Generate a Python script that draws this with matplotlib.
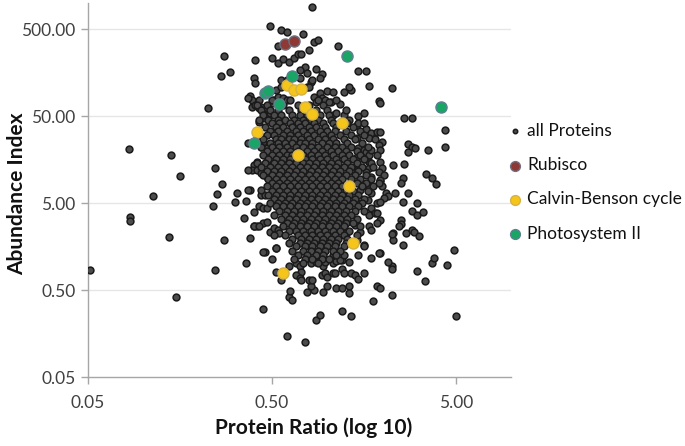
import numpy as np
import matplotlib
matplotlib.use("Agg")
import matplotlib.pyplot as plt
from matplotlib.ticker import FixedLocator, FixedFormatter, NullLocator

# ---------------- data (log10 of ratio, log10 of abundance index) ----------------
x_ticks = [0.05, 0.5, 5.0]
x_tick_labels = ["0.05", "0.50", "5.00"]
y_ticks = [0.05, 0.5, 5.0, 50.0, 500.0]
y_tick_labels = ["0.05", "0.50", "5.00", "50.00", "500.00"]

legend_labels = ["all Proteins", "Rubisco", "Calvin-Benson cycle", "Photosystem II"]

rubisco_pts = [(-0.23, 2.53), (-0.18, 2.56)]
calvin_pts = [(-0.22, 2.06), (-0.18, 2.00), (-0.14, 2.01), (-0.12, 1.80), (-0.08, 1.72),
              (0.08, 1.62), (-0.38, 1.52), (-0.16, 1.25), (0.12, 0.90), (0.14, 0.24),
              (-0.24, -0.11)]
psii_pts = [(0.11, 2.39), (-0.19, 2.16), (-0.34, 1.97), (-0.32, 1.99), (-0.26, 1.84),
            (-0.40, 1.39), (0.62, 1.80)]

upper_pts = [(-0.08, 2.95), (-0.31, 2.74), (-0.25, 2.69), (-0.22, 2.67), (-0.13, 2.64),
             (-0.27, 2.51), (-0.07, 2.55), (-0.05, 2.57), (0.06, 2.51), (-0.56, 2.39),
             (-0.39, 2.34), (-0.30, 2.37), (-0.27, 2.31), (-0.24, 2.36), (-0.21, 2.32),
             (-0.18, 2.37), (-0.16, 2.41), (-0.14, 2.41), (-0.10, 2.46), (-0.58, 2.16),
             (-0.53, 2.21), (-0.40, 2.14), (-0.39, 2.08), (-0.12, 2.26), (-0.11, 2.20),
             (-0.06, 2.24), (-0.03, 2.18), (-0.09, 2.09), (-0.08, 2.11), (-0.04, 2.14),
             (0.17, 2.22), (0.21, 2.22), (0.23, 2.05), (0.35, 2.02), (-0.42, 1.93),
             (-0.41, 1.89), (-0.43, 1.91), (0.00, 1.99), (0.03, 1.98), (0.09, 1.98),
             (0.13, 2.00), (0.12, 2.03), (-0.65, 1.79), (0.28, 1.87), (0.29, 1.85),
             (0.20, 1.74), (0.17, 1.70), (0.42, 1.68), (0.46, 1.68), (0.64, 1.54),
             (0.64, 1.34),
             (-0.36, 1.80), (-0.33, 1.79), (-0.30, 1.85), (-0.29, 1.89), (-0.27, 1.92),
             (-0.24, 1.91), (-0.22, 1.89), (-0.28, 2.00), (-0.25, 2.03), (-0.25, 2.11),
             (-0.22, 2.11), (-0.15, 2.14), (-0.15, 2.23), (-0.11, 2.03), (-0.10, 2.03),
             (-0.07, 1.92), (-0.04, 1.97), (-0.03, 1.91), (-0.01, 1.89), (-0.06, 1.86),
             (0.02, 1.86)]

left_pts = [(-1.08, 1.32), (-0.85, 1.25), (-0.80, 1.01), (-0.95, 0.78), (-1.07, 0.54),
            (-1.07, 0.49), (-0.61, 1.10), (-0.57, 0.92), (-0.60, 0.80), (-0.49, 0.82),
            (-0.50, 0.71), (-0.44, 0.72), (-0.62, 0.66), (-0.45, 0.53),
            (-0.42, 0.85), (-0.36, 0.79), (-0.34, 0.79), (-0.36, 0.85), (-0.40, 0.60),
            (-0.37, 0.66), (-0.35, 0.64), (-0.33, 0.64), (-0.40, 0.43), (-0.38, 0.43),
            (-0.35, 0.47), (-0.33, 0.48), (-0.31, 0.37), (-0.29, 0.41), (-0.27, 0.39),
            (-0.26, 0.36), (-0.29, 0.33), (-0.34, 0.14), (-0.28, 0.18), (-0.30, 0.94),
            (-0.28, 0.91), (-0.41, 1.80), (-0.39, 1.83), (-0.37, 1.79), (-0.33, 1.71),
            (-0.31, 1.74), (-0.34, 1.68), (-0.37, 1.63), (-0.38, 1.45), (-0.35, 1.46),
            (-0.35, 1.40), (-0.36, 1.34), (-0.33, 1.33), (-0.34, 1.25), (-0.33, 1.17),
            (-0.38, 1.17), (-0.40, 1.14), (-0.41, 1.08), (-0.38, 1.08), (-0.36, 1.05),
            (-0.33, 1.00), (-0.43, 1.39), (-0.43, 1.08), (-0.43, 0.85)]

lower_pts = [(-1.29, -0.07), (-0.86, 0.31), (-0.82, -0.38), (-0.61, -0.07), (-0.56, 0.28),
             (-0.44, 0.01), (-0.35, -0.52), (-0.35, 0.14), (-0.42, 0.30), (-0.40, 0.44),
             (-0.37, 0.43), (-0.28, -0.09), (-0.25, -0.18), (-0.22, -0.83), (-0.12, -0.90),
             (-0.21, -0.38), (-0.19, -0.41), (-0.20, -0.31), (-0.30, 0.06), (-0.28, 0.18),
             (-0.06, -0.64), (-0.04, -0.59), (-0.11, -0.32), (-0.07, -0.30), (-0.02, -0.32),
             (0.00, -0.26), (0.08, -0.54), (0.13, -0.60), (0.05, -0.28), (0.08, -0.28),
             (-0.09, -0.25), (-0.10, -0.18), (-0.08, -0.18), (-0.03, -0.13), (0.03, -0.10),
             (0.04, -0.10), (0.08, -0.06), (0.09, -0.11), (0.13, -0.10), (0.15, -0.13),
             (0.17, -0.17), (0.20, -0.10), (0.12, -0.25), (0.12, -0.33), (-0.02, -0.02),
             (-0.01, -0.11), (0.00, -0.15), (0.03, 0.01), (0.05, 0.03), (0.08, 0.05),
             (0.25, -0.43), (0.35, -0.36), (0.27, -0.25), (0.29, -0.28), (0.35, -0.02),
             (0.35, -0.06), (0.49, -0.08), (0.53, -0.20), (0.57, 0.01), (0.58, 0.07),
             (0.65, -0.01), (0.69, 0.16), (0.70, -0.60), (0.41, 0.22), (0.36, 0.36),
             (0.36, 0.28), (0.43, 0.36), (0.46, 0.39), (0.47, 0.37), (0.50, 0.32),
             (0.29, 0.13), (-0.17, 0.01), (-0.21, -0.02), (-0.15, -0.03), (-0.14, -0.09),
             (-0.17, -0.13), (-0.15, -0.16), (-0.14, -0.18), (-0.09, 0.01), (-0.06, 0.02)]

right_pts = [(0.44, 1.38), (0.46, 1.34), (0.48, 1.33), (0.44, 1.29), (0.55, 1.31),
             (0.42, 1.15), (0.36, 1.14), (0.54, 1.03), (0.57, 0.99), (0.59, 0.92),
             (0.41, 0.99), (0.40, 0.93), (0.44, 0.82), (0.37, 0.82), (0.41, 0.71),
             (0.49, 0.70), (0.46, 0.61), (0.49, 0.56), (0.52, 0.60), (0.40, 0.51),
             (0.40, 0.46), (0.39, 0.43), (0.35, 0.34), (0.29, 0.95), (0.30, 0.90),
             (0.32, 0.82), (0.33, 0.78), (0.31, 0.76), (0.27, 0.70), (0.29, 0.71),
             (0.24, 0.64), (0.23, 0.56), (0.26, 0.59), (0.27, 0.59), (0.29, 0.51),
             (0.27, 0.47), (0.23, 0.44), (0.24, 0.39), (0.28, 0.13), (0.11, 0.37),
             (0.03, 0.10), (0.07, 0.05), (0.09, 0.10), (-0.01, 0.02),
             (0.01, 1.86), (0.07, 1.84), (0.03, 1.71), (0.05, 1.74), (0.09, 1.71),
             (0.16, 1.60), (0.17, 1.62), (0.21, 1.55), (0.24, 1.51), (0.27, 1.52),
             (0.29, 1.52), (0.16, 1.45), (0.23, 1.45), (0.30, 1.40), (0.28, 1.37),
             (0.29, 1.31), (0.17, 1.33), (0.20, 1.31), (0.21, 1.29), (0.23, 1.25),
             (0.24, 1.31), (0.29, 1.17), (0.30, 1.10), (0.28, 1.06), (0.31, 1.02),
             (0.29, 0.97), (0.23, 1.17), (0.24, 1.14), (0.23, 1.10),
             (0.16, 1.23), (0.20, 1.21), (0.24, 1.16), (0.16, 1.08), (0.21, 1.06),
             (0.24, 1.00), (0.28, 0.93), (0.23, 0.89), (0.18, 0.85), (0.24, 0.82),
             (0.22, 0.74), (0.17, 0.70),
             (0.16, 0.28), (0.20, 0.22), (0.17, 0.10), (0.12, 0.02), (0.24, 0.07),
             (0.33, 0.02), (0.18, 0.37), (0.15, 0.45)]

# dense core, read row by row: abundance level (log10) and the ratios (log10) in that row
core_levels = [1.89, 1.83, 1.77, 1.71, 1.66, 1.62, 1.57, 1.53, 1.48, 1.44, 1.39, 1.34,
               1.30, 1.25, 1.21, 1.16, 1.11, 1.07, 1.02, 0.98, 0.93, 0.89, 0.84, 0.79,
               0.75, 0.70, 0.66, 0.61, 0.56, 0.52, 0.47, 0.43, 0.38, 0.33, 0.29, 0.24,
               0.20, 0.15, 0.10, 0.06, 0.01]
core_rows = [
    [-0.37, -0.30, -0.20, -0.05, 0.05],
    [-0.38, -0.33, -0.24, -0.16, -0.10, -0.02],
    [-0.36, -0.31, -0.27, -0.21, -0.14, -0.06, 0.00, 0.10],
    [-0.35, -0.29, -0.25, -0.19, -0.15, -0.11, -0.04, 0.01],
    [-0.37, -0.32, -0.27, -0.23, -0.18, -0.13, -0.09, -0.05, 0.02, 0.12],
    [-0.30, -0.26, -0.20, -0.16, -0.12, -0.07, -0.02, 0.03, 0.11, 0.20],
    [-0.34, -0.28, -0.24, -0.19, -0.15, -0.10, -0.06, -0.01, 0.05, 0.14],
    [-0.31, -0.27, -0.22, -0.17, -0.13, -0.09, -0.04, 0.00, 0.04, 0.10, 0.18],
    [-0.33, -0.29, -0.24, -0.20, -0.16, -0.11, -0.07, -0.02, 0.02, 0.07, 0.13, 0.20],
    [-0.35, -0.28, -0.25, -0.21, -0.18, -0.14, -0.10, -0.05, -0.01, 0.03, 0.09, 0.15, 0.26],
    [-0.31, -0.27, -0.23, -0.19, -0.15, -0.12, -0.08, -0.03, 0.01, 0.05, 0.11, 0.19],
    [-0.36, -0.30, -0.26, -0.22, -0.17, -0.13, -0.09, -0.05, 0.00, 0.04, 0.08, 0.13, 0.22],
    [-0.33, -0.28, -0.24, -0.20, -0.16, -0.11, -0.07, -0.03, 0.02, 0.06, 0.10, 0.16],
    [-0.35, -0.30, -0.26, -0.22, -0.19, -0.13, -0.09, -0.05, -0.01, 0.03, 0.08, 0.12, 0.18, 0.27],
    [-0.32, -0.28, -0.24, -0.20, -0.16, -0.12, -0.08, -0.04, 0.00, 0.05, 0.09, 0.14, 0.20],
    [-0.38, -0.34, -0.29, -0.25, -0.21, -0.17, -0.13, -0.10, -0.06, -0.02, 0.02, 0.06, 0.11, 0.16],
    [-0.36, -0.31, -0.27, -0.23, -0.19, -0.15, -0.11, -0.07, -0.03, 0.01, 0.05, 0.09, 0.13, 0.19, 0.25],
    [-0.33, -0.29, -0.25, -0.21, -0.17, -0.13, -0.09, -0.05, -0.01, 0.03, 0.07, 0.12, 0.17],
    [-0.35, -0.30, -0.26, -0.22, -0.18, -0.14, -0.10, -0.06, -0.02, 0.02, 0.06, 0.10, 0.15, 0.21],
    [-0.32, -0.28, -0.24, -0.20, -0.16, -0.12, -0.08, -0.04, 0.00, 0.04, 0.08, 0.13, 0.18, 0.24],
    [-0.30, -0.26, -0.22, -0.18, -0.14, -0.10, -0.06, -0.02, 0.02, 0.06, 0.16, 0.21],
    [-0.33, -0.28, -0.24, -0.20, -0.16, -0.12, -0.08, -0.04, 0.00, 0.04, 0.08, 0.19, 0.25],
    [-0.30, -0.26, -0.22, -0.18, -0.14, -0.10, -0.06, -0.02, 0.02, 0.06, 0.10, 0.14, 0.22],
    [-0.32, -0.28, -0.24, -0.20, -0.16, -0.12, -0.08, -0.04, 0.00, 0.04, 0.08, 0.12, 0.17],
    [-0.29, -0.25, -0.21, -0.17, -0.13, -0.09, -0.05, -0.01, 0.03, 0.07, 0.11, 0.15, 0.20],
    [-0.31, -0.27, -0.23, -0.19, -0.15, -0.11, -0.07, -0.03, 0.01, 0.05, 0.09, 0.14, 0.19],
    [-0.28, -0.24, -0.20, -0.16, -0.12, -0.08, -0.04, 0.00, 0.04, 0.08, 0.12, 0.17],
    [-0.26, -0.22, -0.18, -0.14, -0.10, -0.06, -0.02, 0.02, 0.06, 0.10, 0.15, 0.20],
    [-0.29, -0.23, -0.19, -0.15, -0.11, -0.07, -0.03, 0.01, 0.05, 0.09, 0.13],
    [-0.25, -0.21, -0.17, -0.13, -0.09, -0.05, -0.01, 0.03, 0.07, 0.11, 0.16],
    [-0.22, -0.18, -0.14, -0.10, -0.06, -0.02, 0.02, 0.06, 0.10, 0.14],
    [-0.24, -0.19, -0.15, -0.11, -0.07, -0.03, 0.01, 0.05, 0.09, 0.18],
    [-0.21, -0.17, -0.13, -0.09, -0.05, -0.01, 0.03, 0.07, 0.12],
    [-0.23, -0.16, -0.12, -0.08, -0.04, 0.00, 0.04, 0.09, 0.16],
    [-0.19, -0.14, -0.10, -0.06, -0.02, 0.02, 0.06, 0.11],
    [-0.21, -0.15, -0.11, -0.07, -0.03, 0.01, 0.05, 0.10],
    [-0.17, -0.12, -0.08, -0.04, 0.00, 0.04, 0.09, 0.20],
    [-0.19, -0.13, -0.09, -0.05, -0.01, 0.03, 0.07],
    [-0.16, -0.11, -0.06, -0.02, 0.05],
    [-0.18, -0.12, -0.08, -0.03, 0.01],
    [-0.13, -0.05],
]

# ---------------- assemble ----------------
def unzip(pts):
    a = np.array(pts, dtype=float)
    return a[:, 0], a[:, 1]

bg_x, bg_y = [], []
for grp in (upper_pts, left_pts, lower_pts, right_pts):
    gx, gy = unzip(grp)
    bg_x.extend(gx); bg_y.extend(gy)
for lvl, row in zip(core_levels, core_rows):
    bg_x.extend(row); bg_y.extend([lvl] * len(row))
bg_x = 10 ** np.array(bg_x)
bg_y = 10 ** np.array(bg_y)

FONT = ["Lato", "DejaVu Sans"]
plt.rcParams["font.family"] = FONT

fig = plt.figure(figsize=(6.85, 4.46), dpi=100)
ax = fig.add_axes([88 / 685, 1 - 377 / 446, (511 - 88) / 685, (377 - 3) / 446])
ax.set_xscale("log")
ax.set_yscale("log")
ax.set_xlim(0.05, 10)
ax.set_ylim(0.05, 1000)

for yv in y_ticks[1:]:
    ax.axhline(yv, color="#e6e6e6", lw=1.0, zorder=0)

sc_all = ax.scatter(bg_x, bg_y, s=24, facecolor="#4c4c4c", edgecolor="#1a1a1a",
                    linewidths=1.1, label=legend_labels[0], zorder=3)
rx, ry = unzip(rubisco_pts)
sc_r = ax.scatter(10 ** rx, 10 ** ry, s=64, facecolor="#8e3936", edgecolor="#6e7080",
                  linewidths=1.0, label=legend_labels[1], zorder=4)
cx, cy = unzip(calvin_pts)
sc_c = ax.scatter(10 ** cx, 10 ** cy, s=64, facecolor="#f6c51a", edgecolor="#d4b24a",
                  linewidths=1.0, label=legend_labels[2], zorder=5)
px_, py_ = unzip(psii_pts)
sc_p = ax.scatter(10 ** px_, 10 ** py_, s=64, facecolor="#18a566", edgecolor="#5e7f8e",
                  linewidths=1.0, label=legend_labels[3], zorder=6)

for side in ("top", "right"):
    ax.spines[side].set_visible(False)
for side in ("left", "bottom"):
    ax.spines[side].set_color("#a6a6a6")
    ax.spines[side].set_linewidth(1.0)

ax.xaxis.set_major_locator(FixedLocator(x_ticks))
ax.xaxis.set_major_formatter(FixedFormatter(x_tick_labels))
ax.yaxis.set_major_locator(FixedLocator(y_ticks))
ax.yaxis.set_major_formatter(FixedFormatter(y_tick_labels))
ax.xaxis.set_minor_locator(NullLocator())
ax.yaxis.set_minor_locator(NullLocator())
ax.tick_params(axis="both", which="major", length=5, width=1.0, color="#a6a6a6",
               labelsize=12.5, labelcolor="#404040")
ax.tick_params(axis="x", pad=8)
ax.tick_params(axis="y", pad=4)

ax.set_xlabel("Protein Ratio (log 10)", fontsize=15, fontweight="bold", color="#111111",
              va="center")
ax.xaxis.set_label_coords((314 - 88) / 423, -(428 - 377) / 374)
ax.set_ylabel("Abundance Index", fontsize=15, fontweight="bold", color="#111111",
              va="center")
ax.yaxis.set_label_coords(-(88 - 17) / 423, (377 - 194) / 374)

leg = fig.legend(handles=[sc_all, sc_r, sc_c, sc_p], labels=legend_labels,
                 loc="upper left", bbox_to_anchor=(504 / 685, 1 - 123 / 446),
                 frameon=False, fontsize=12.5, handletextpad=0.1, handlelength=1.25,
                 labelspacing=1.05, scatterpoints=1, borderaxespad=0, borderpad=0)
leg.legend_handles[0].set_sizes([10])
for h in leg.legend_handles[1:]:
    h.set_sizes([50])
for t in leg.get_texts():
    t.set_color("#111111")

fig.savefig("out.png", dpi=100)
